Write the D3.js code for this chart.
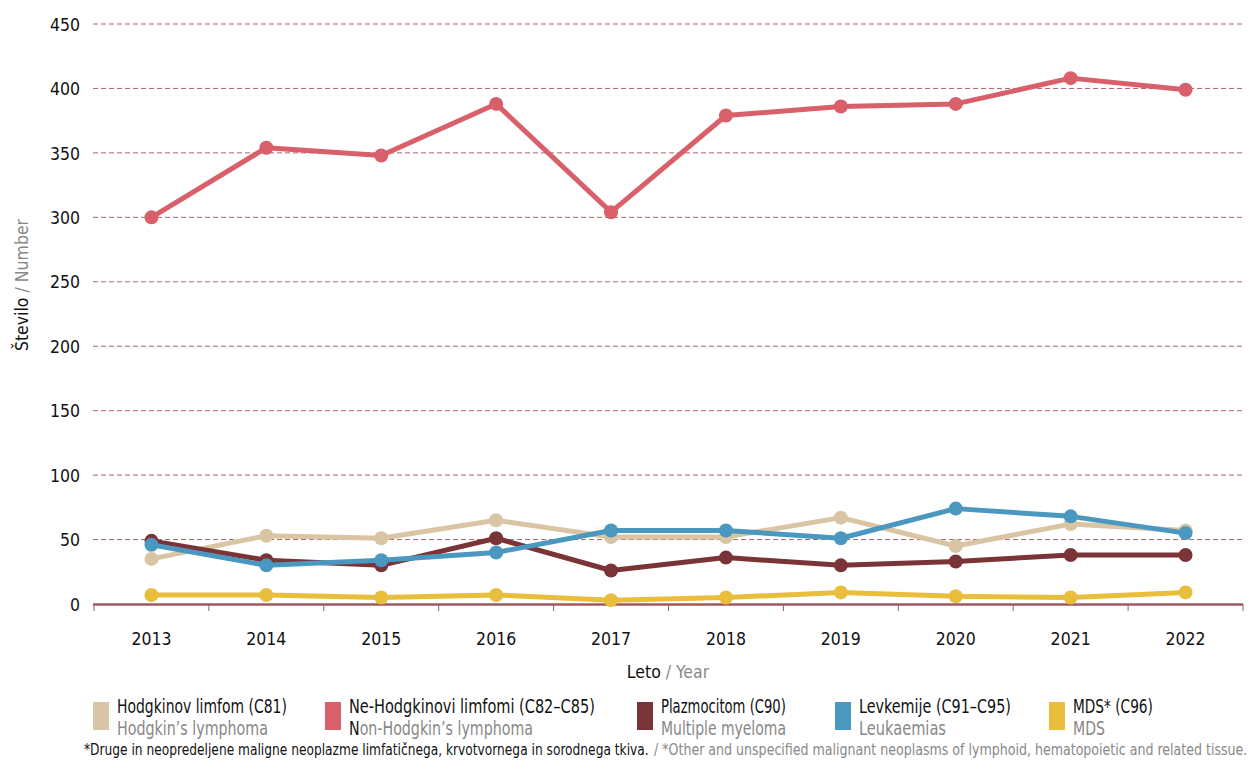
<!DOCTYPE html>
<html><head><meta charset="utf-8">
<script src="https://cdn.jsdelivr.net/npm/d3@7"></script>
<style>
body{margin:0;background:#fff;}
text{font-family:"DejaVu Sans Condensed","Liberation Sans Narrow","Roboto",sans-serif;}
</style></head>
<body><svg id="c" width="1250" height="762"></svg>
<script>
const years = ["2013","2014","2015","2016","2017","2018","2019","2020","2021","2022"];
const yTicks = [0,50,100,150,200,250,300,350,400,450];
const hodgkin = [35,53,51,65,52,52,67,45,62,57];
const nonHodgkin = [300,354,348,388,304,379,386,388,408,399];
const plazmocitom = [49,34,30,51,26,36,30,33,38,38];
const levkemije = [46,30,34,40,57,57,51,74,68,55];
const mds = [7,7,5,7,3,5,9,6,5,9];
const seriesNamesSl = ["Hodgkinov limfom (C81)","Ne-Hodgkinovi limfomi (C82–C85)","Plazmocitom (C90)","Levkemije (C91–C95)","MDS* (C96)"];
const seriesNamesEn = ["Hodgkin’s lymphoma","Non-Hodgkin’s lymphoma","Multiple myeloma","Leukaemias","MDS"];
const colors = ["#D9C4A4","#D95F6A","#7A3336","#4A97C0","#E8BE3C"];
const seriesValues = [hodgkin,nonHodgkin,plazmocitom,levkemije,mds];

const svg = d3.select("#c");
const x = d3.scaleBand().domain(years).range([94,1243]);
const y = d3.scaleLinear().domain([0,450]).range([604,24]);
const axisCol = "#9C5A60";

// place a text at (px,py) squeezed horizontally to a target width
function fitText(parent, px, py, width, size){
  const t = parent.append("text").attr("x",0).attr("y",0).attr("font-size",size);
  return {t, done(){
    const w = t.node().getComputedTextLength();
    t.attr("transform",`translate(${px},${py}) scale(${width/w},1)`);
    return t;
  }};
}

// gridlines
svg.append("g").selectAll("line").data(yTicks.filter(d=>d>0)).join("line")
  .attr("x1",93).attr("x2",1243).attr("y1",d=>y(d)).attr("y2",d=>y(d))
  .attr("stroke","#A8666C").attr("stroke-width",1).attr("stroke-dasharray","5,3");

// y axis labels
const ya = svg.append("g").attr("transform","translate(80,0)")
  .call(d3.axisLeft(y).tickValues(yTicks).tickSize(0).tickPadding(0));
ya.select(".domain").remove();
ya.selectAll("text").attr("font-size",17.5).attr("fill","#111").attr("dy","0.35em");

// x axis
const xa = svg.append("g").attr("transform","translate(0,604)")
  .call(d3.axisBottom(x).tickSize(0).tickPadding(0));
xa.select(".domain").remove();
xa.selectAll("text").attr("font-size",17.5).attr("fill","#111").attr("y",29);
svg.append("line").attr("x1",93).attr("x2",1243).attr("y1",604.5).attr("y2",604.5)
  .attr("stroke",axisCol).attr("stroke-width",2.5);
const bounds = years.map(d=>x(d)).concat([x.range()[1]]);
svg.append("g").selectAll("line").data(bounds).join("line")
  .attr("x1",d=>d).attr("x2",d=>d).attr("y1",604).attr("y2",611)
  .attr("stroke",axisCol).attr("stroke-width",1);

// axis titles
const yt = svg.append("text").attr("transform","translate(28,285) rotate(-90)")
  .attr("text-anchor","middle").attr("font-size",17.5);
yt.append("tspan").attr("fill","#111").text("Število");
yt.append("tspan").attr("fill","#888").text(" / Number");
const xt = svg.append("text").attr("x",668).attr("y",678).attr("text-anchor","middle").attr("font-size",17.5);
xt.append("tspan").attr("fill","#111").text("Leto");
xt.append("tspan").attr("fill","#888").text(" / Year");

// lines
const cx = d => x(d) + x.bandwidth()/2;
const line = d3.line().x((v,i)=>cx(years[i])).y(v=>y(v));
[0,1,2,3,4].forEach(k=>{
  const g = svg.append("g");
  g.append("path").datum(seriesValues[k]).attr("d",line).attr("fill","none")
    .attr("stroke",colors[k]).attr("stroke-width",5).attr("stroke-linejoin","round");
  g.selectAll("circle").data(seriesValues[k]).join("circle")
    .attr("cx",(v,i)=>cx(years[i])).attr("cy",v=>y(v)).attr("r",7).attr("fill",colors[k]);
});

// legend (layout constants)
const legX = [93,325,637,835,1049];
const legW1 = [170,246,125,152,80];
const legW2 = [151,184,125,87,32];
seriesNamesSl.forEach((n,k)=>{
  const g = svg.append("g").attr("transform",`translate(${legX[k]},0)`);
  g.append("rect").attr("x",0).attr("y",702).attr("width",16).attr("height",28).attr("fill",colors[k]);
  const a = fitText(g,24,712.5,legW1[k],19);
  a.t.attr("fill","#111").text(n); a.done();
  const b = fitText(g,24,734.5,legW2[k],19);
  b.t.attr("fill","#888");
  if(k===1){
    b.t.append("tspan").attr("fill","#111").text(seriesNamesEn[k].slice(0,1));
    b.t.append("tspan").text(seriesNamesEn[k].slice(1));
  } else b.t.text(seriesNamesEn[k]);
  b.done();
});

// footnote
const f1 = fitText(svg,84,755,565,16.5);
f1.t.attr("fill","#111").text("*Druge in neopredeljene maligne neoplazme limfatičnega, krvotvornega in sorodnega tkiva."); f1.done();
const f2 = fitText(svg,654,755,594,16.5);
f2.t.attr("fill","#888").text("/ *Other and unspecified malignant neoplasms of lymphoid, hematopoietic and related tissue."); f2.done();
</script></body></html>
